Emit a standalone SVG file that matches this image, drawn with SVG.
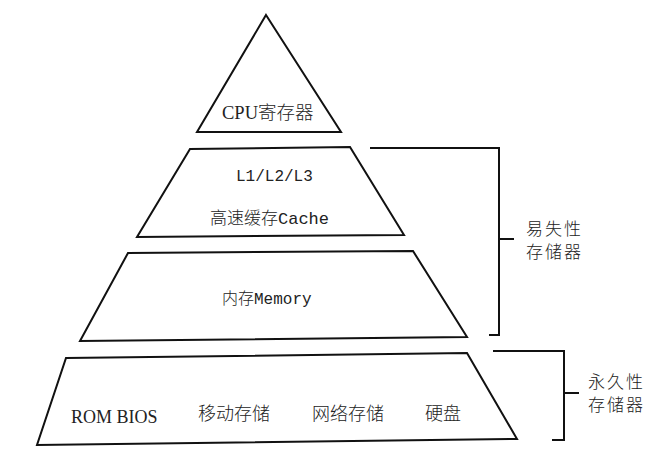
<svg xmlns="http://www.w3.org/2000/svg" width="665" height="469" viewBox="0 0 665 469">
<style>
.shape{fill:#fff;stroke:#111;stroke-width:2;stroke-linejoin:miter}
.br{fill:none;stroke:#111;stroke-width:2}
.serif{font-family:"Liberation Serif","Noto Sans CJK SC",serif;fill:#222}
.mono{font-family:"Liberation Mono","Noto Sans CJK SC",monospace;fill:#222}
.cjk{font-family:"Noto Sans CJK SC",sans-serif;fill:#222;font-weight:300}
</style>
<rect width="665" height="469" fill="#fff"/>
<g id="cpu">
<polygon class="shape" points="266,15 341,132 197,132"/>
<text class="serif" x="222" y="119" font-size="18.5">CPU<tspan class="cjk">寄存器</tspan></text>
</g>
<g id="cache">
<polygon class="shape" points="190,149 350,147 404,235 137,237"/>
<text class="mono" x="236" y="181" font-size="16">L1/L2/L3</text>
<text class="mono" x="210" y="224" font-size="17"><tspan class="cjk">高速缓存</tspan>Cache</text>
</g>
<g id="memory">
<polygon class="shape" points="128,253 413,251 467,337 80,341"/>
<text class="mono" x="222" y="304" font-size="16"><tspan class="cjk">内存</tspan>Memory</text>
</g>
<g id="storage">
<polygon class="shape" points="66,358 467,353 517,439 37,445"/>
<text class="serif" x="71" y="423" font-size="18">ROM BIOS</text>
<text class="cjk" x="198" y="420" font-size="18">移动存储</text>
<text class="cjk" x="312" y="420" font-size="18">网络存储</text>
<text class="cjk" x="425" y="420" font-size="18">硬盘</text>
</g>
<g id="connectors">
<polyline class="br" points="370,148 499,148 499,335 489,335"/>
<line class="br" x1="499" y1="239" x2="514" y2="239"/>
<polyline class="br" points="493,351 564,351 564,440 552,440"/>
<line class="br" x1="564" y1="393" x2="579" y2="393"/>
</g>
<g id="volatile-label">
<text class="cjk" font-size="17" letter-spacing="2"><tspan x="526" y="235">易失性</tspan><tspan x="526" y="258">存储器</tspan></text>
</g>
<g id="permanent-label">
<text class="cjk" font-size="17" letter-spacing="2"><tspan x="588" y="388">永久性</tspan><tspan x="588" y="411">存储器</tspan></text>
</g>
</svg>
